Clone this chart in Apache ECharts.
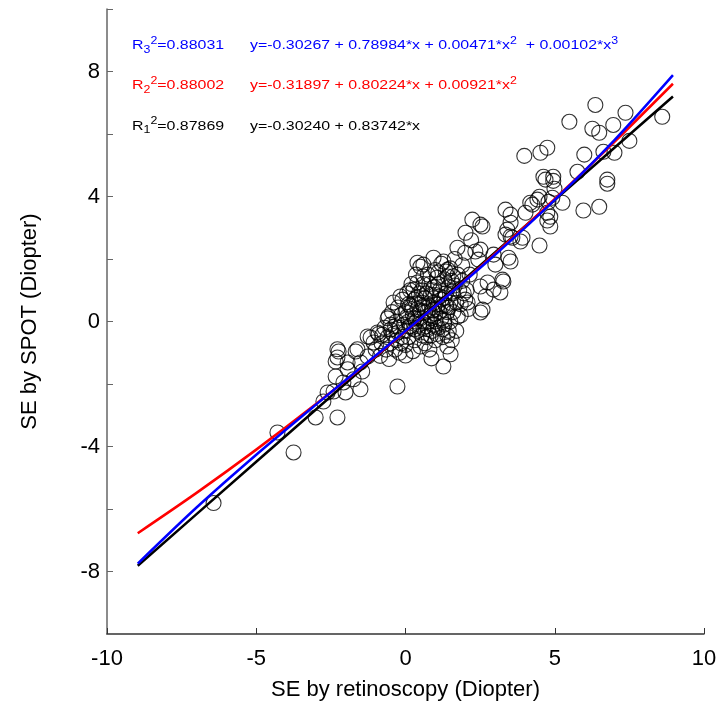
<!DOCTYPE html>
<html>
<head>
<meta charset="utf-8">
<script src="https://cdn.jsdelivr.net/npm/echarts@6/dist/echarts.min.js"></script>
<style>
html,body{margin:0;padding:0;background:#fff;}
#chart{width:721px;height:706px;}
</style>
</head>
<body>
<div id="chart"></div>
<script>
// ---- data ----
var yTickLabels = [8, 4, 0, -4, -8];
var xTickLabels = [-10, -5, 0, 5, 10];

var retinoscopy = [
  6.36,5.49,7.37,8.60,6.26,6.49,6.96,7.50,3.98,4.52,4.75,5.99,6.63,7.00,5.76,4.62,4.95,4.69,4.95,6.76,
  6.76,4.99,4.42,4.18,5.26,4.79,4.92,4.49,3.35,3.52,4.02,4.75,5.96,6.49,3.52,4.75,4.85,2.58,3.35,3.58,
  3.92,3.85,4.49,2.95,3.45,2.51,3.28,3.52,4.25,4.85,2.24,2.51,2.01,3.52,3.41,1.74,2.34,2.44,3.01,3.25,
  2.75,2.95,2.68,2.51,2.08,2.51,2.58,3.18,0.94,0.60,1.41,1.27,1.10,0.40,
  -6.43,-4.29,-3.75,-3.01,-2.75,-2.28,-2.41,-2.01,-1.51,-2.08,-1.74,-2.34,-1.94,-1.51,-1.27,-2.28,-2.28,-1.61,-1.07,-1.27,
  -0.94,-2.61,-1.17,-0.77,-0.50,-0.57,-0.40,-0.17,0.27,0.60,1.41,-1.67,-2.34,-1.94,-1.45,-2.24,
  -0.27,0.87,1.27,1.51,0.00,
  -1.0,-0.9,-0.85,-0.8,-0.7,-0.65,-0.6,-0.55,-0.5,-0.5,-0.45,-0.4,-0.35,-0.3,-0.3,-0.25,-0.2,-0.2,-0.15,-0.1,
  -0.1,-0.05,0.0,0.0,0.0,0.05,0.1,0.1,0.15,0.2,0.2,0.25,0.3,0.3,0.35,0.35,0.4,0.4,0.45,0.5,
  0.5,0.5,0.55,0.6,0.6,0.65,0.7,0.7,0.75,0.75,0.8,0.8,0.85,0.9,0.9,0.95,1.0,1.0,1.0,1.05,
  1.1,1.1,1.15,1.2,1.2,1.25,1.25,1.3,1.3,1.35,1.4,1.4,1.45,1.5,1.5,1.5,1.55,1.6,1.6,1.65,
  1.7,1.7,1.75,1.8,1.85,1.9,1.9,2.0,2.0,2.05,2.1,2.15,2.2,
  0.2,0.45,0.55,0.65,0.85,0.95,1.05,1.15,1.35,1.45,0.3,0.6,0.9,1.2,-0.25,0.15,0.75,1.6,1.75,-0.6,
  1.95,1.3,0.1,0.45,0.8,1.55,
  0.25,0.35,0.55,0.7,0.85,1.0,1.15,1.3,1.45,0.05,-0.15,0.4,0.65,0.95,1.25,1.55,1.85,0.5,0.75,1.05,
  1.35,1.65,-0.35,0.15,0.85,1.1,1.4,0.3,0.6,1.0
];
var spot = [
  6.93,6.39,6.68,6.55,6.17,6.04,6.29,5.78,5.30,5.40,5.56,5.34,5.43,5.40,4.79,4.63,4.63,4.54,4.50,4.54,
  4.41,4.25,3.90,3.80,3.80,3.83,3.96,3.99,3.58,3.42,3.48,3.48,3.55,3.67,3.16,3.23,3.04,3.04,2.78,2.68,
  2.68,2.56,2.43,2.14,2.04,2.30,1.28,1.92,3.74,3.35,3.26,3.10,2.84,2.72,2.94,2.36,2.24,1.98,1.82,1.34,
  1.25,1.02,0.80,0.29,0.61,1.12,0.38,0.93,2.04,1.82,1.66,1.92,1.57,1.88,
  -5.81,-3.55,-4.19,-3.07,-2.56,-3.07,-2.24,-2.27,-2.17,-1.95,-1.85,-1.76,-1.31,-1.31,-1.12,-1.15,-0.89,-0.89,-0.67,-0.48,
  -0.35,-2.27,-0.51,-0.42,-0.26,0.16,0.61,0.80,1.02,1.44,1.44,-0.96,-1.28,-1.53,-1.60,-0.96,
  -2.08,-1.18,-1.44,-1.05,-1.09,
  -0.9,-0.4,-1.1,-0.7,-0.2,-0.9,-0.5,-1.2,-0.1,-0.7,0.3,-0.4,-0.9,0.0,-0.6,0.45,-0.2,-1.0,0.2,-0.5,
  0.7,-0.1,0.3,-0.75,-0.3,0.9,0.0,-0.5,0.5,-0.2,1.2,0.2,-0.6,0.7,0.0,1.5,0.4,-0.3,0.9,-0.8,
  0.1,1.75,0.6,-0.2,1.2,0.3,-0.5,0.9,0.0,1.5,0.5,-0.9,0.2,1.0,-0.3,0.6,0.0,1.65,-0.6,0.4,
  1.2,-0.2,0.8,0.1,1.85,-0.5,0.5,1.35,-0.1,0.9,0.3,-0.8,1.1,0.6,1.7,0.0,1.3,0.3,0.9,2.0,
  0.6,-0.3,1.5,1.0,0.2,1.8,1.3,0.7,2.2,1.0,0.4,1.5,2.6,
  0.4,-0.1,-0.45,0.75,0.85,-0.1,1.4,0.3,0.5,-0.3,0.1,0.0,0.35,0.7,-0.35,-0.15,0.35,1.45,0.15,0.1,
  0.9,0.05,0.55,0.55,1.2,-0.6,
  -0.95,0.75,1.0,-0.15,-0.45,0.25,1.0,0.75,0.45,0.15,-0.7,1.25,-0.7,1.1,-0.25,0.95,0.55,0.35,-0.25,-0.4,
  1.6,1.15,-0.15,1.0,0.1,0.55,-0.45,-0.25,0.5,0.85
];

// fit curves
var fitX      = [-8.97, -7, -5, -3, -1, 1, 3, 5, 7, 8.96];
var linearY   = [-7.814, -6.164, -4.489, -2.815, -1.140, 0.535, 2.210, 3.885, 5.560, 7.201];
var quadY     = [-6.774, -5.484, -4.100, -2.643, -1.112, 0.492, 2.171, 3.922, 5.748, 7.608];
var cubicY    = [-7.745, -5.951, -4.262, -2.659, -1.089, 0.493, 2.137, 3.892, 5.807, 7.886];

var r3Label = '0.88031', r2Label = '0.88002', r1Label = '0.87869';

// ---- build ----
function pairs(xs, ys){ var o=[]; for(var i=0;i<xs.length;i++) o.push([xs[i], ys[i]]); return o; }
var FONT = "'Liberation Sans', Helvetica, Arial, sans-serif";

function richStyles(color){
  return {
    b:  {fontSize:13.5, lineHeight:20, fill:color, fontFamily:FONT, verticalAlign:'middle'},
    sp: {fontSize:10.5, lineHeight:14, fill:color, fontFamily:FONT, verticalAlign:'top'},
    sb: {fontSize:10.5, lineHeight:14, fill:color, fontFamily:FONT, verticalAlign:'bottom'}
  };
}
function textEl(x, y, text, color){
  return {type:'text', x:x, y:y, z:100, scaleX:1.18, scaleY:1,
    style:{text:text, rich:richStyles(color), fill:color, verticalAlign:'middle', align:'left', font:'13.5px '+FONT}};
}

var chart = echarts.init(document.getElementById('chart'), null, {renderer:'canvas'});
chart.setOption({
  backgroundColor:'#fff',
  animation:false,
  grid:{left:107, right:17, top:9, bottom:72, containLabel:false},
  xAxis:{
    type:'value', min:-10, max:10, interval:5,
    name:'SE by retinoscopy (Diopter)', nameLocation:'middle', nameGap:45,
    nameTextStyle:{fontSize:22, color:'#000', fontFamily:FONT},
    axisLine:{show:true, onZero:false, lineStyle:{color:'#333', width:1.5}},
    axisTick:{show:true, inside:true, length:6, lineStyle:{color:'#333', width:1}},
    axisLabel:{fontSize:22, color:'#000', margin:14, fontFamily:FONT,
      formatter:function(v){ return xTickLabels.indexOf(v)>=0 ? String(v) : ''; }},
    splitLine:{show:false}
  },
  yAxis:{
    type:'value', min:-10, max:10, interval:2,
    name:'SE by SPOT (Diopter)', nameLocation:'middle', nameGap:66, nameRotate:90,
    nameTextStyle:{fontSize:22, color:'#000', fontFamily:FONT},
    axisLine:{show:true, onZero:false, lineStyle:{color:'#666', width:1.5}},
    axisTick:{show:true, inside:true, length:6, lineStyle:{color:'#666', width:1}},
    axisLabel:{fontSize:22, color:'#000', margin:7, fontFamily:FONT,
      formatter:function(v){ return yTickLabels.indexOf(v)>=0 ? String(v) : ''; }},
    splitLine:{show:false}
  },
  series:[
    {type:'scatter', data:pairs(retinoscopy, spot), symbol:'circle', symbolSize:15,
      itemStyle:{color:'rgba(0,0,0,0)', borderColor:'#000', borderWidth:1.1}, z:1},
    {type:'line', data:pairs(fitX, linearY), showSymbol:false, smooth:false,
      lineStyle:{color:'#000', width:2.5}, z:2},
    {type:'line', data:pairs(fitX, quadY), showSymbol:false, smooth:0.3,
      lineStyle:{color:'#ff0000', width:2.5}, z:3},
    {type:'line', data:pairs(fitX, cubicY), showSymbol:false, smooth:0.3,
      lineStyle:{color:'#0000ff', width:2.5}, z:4}
  ],
  graphic:[
    textEl(132, 45.5, '{b|R}{sb|3}{sp|2}{b|='+r3Label+'}', '#0000ff'),
    textEl(250, 45.5, '{b|y=-0.30267 + 0.78984*x + 0.00471*x}{sp|2}{b|  + 0.00102*x}{sp|3}', '#0000ff'),
    textEl(132, 85.5, '{b|R}{sb|2}{sp|2}{b|='+r2Label+'}', '#ff0000'),
    textEl(250, 85.5, '{b|y=-0.31897 + 0.80224*x + 0.00921*x}{sp|2}', '#ff0000'),
    textEl(132, 126, '{b|R}{sb|1}{sp|2}{b|='+r1Label+'}', '#000000'),
    textEl(250, 126, '{b|y=-0.30240 + 0.83742*x}', '#000000')
  ]
});
</script>
</body>
</html>
